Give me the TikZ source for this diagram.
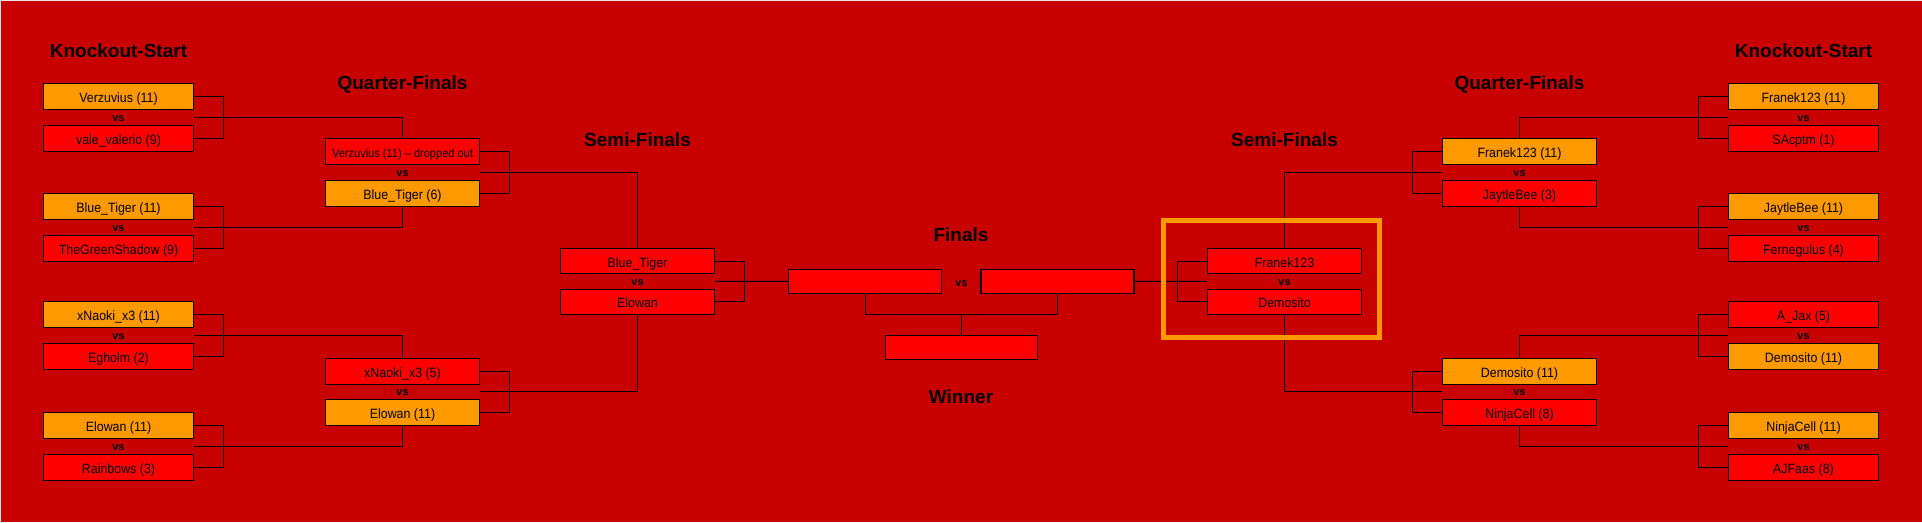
\documentclass[tikz,border=0pt]{standalone}
\usepackage{fontspec}
\setmainfont{Liberation Sans}
\newfontfamily\boxfont[FakeStretch=0.92]{Liberation Sans}
\usetikzlibrary{calc}
\definecolor{bgred}{HTML}{C80000}
\definecolor{boxred}{HTML}{FF0000}
\definecolor{boxorange}{HTML}{FF9900}
\definecolor{edgelight}{HTML}{E6E6E6}
\begin{document}
\begin{tikzpicture}[x=1pt,y=-1pt,
  pbox/.style={draw=black,line width=1.1pt,inner sep=0pt,minimum height=26pt,
    text height=12pt,text depth=0pt,font=\boxfont\fontsize{13.5}{14}\selectfont},
  kobox/.style={pbox,minimum width=150pt},
  qfbox/.style={pbox,minimum width=154pt},
  sfbox/.style={pbox,minimum width=154pt,minimum height=25pt},
  finbox/.style={pbox,minimum width=153pt,minimum height=24pt},
  winp/.style={fill=boxorange},
  losep/.style={fill=boxred},
  smalltext/.style={font=\boxfont\fontsize{12}{13}\selectfont},
  vslabel/.style={anchor=base,inner sep=0pt,font=\bfseries\fontsize{11}{11}\selectfont},
  stagetitle/.style={anchor=base,inner sep=0pt,font=\bfseries\fontsize{19}{19}\selectfont},
  conn/.style={draw=black,line width=1pt},
  highlight/.style={draw=boxorange,line width=5pt}
]
\useasboundingbox (0,0) rectangle (1922,522);
\fill[bgred] (0,0) rectangle (1922,522);
\draw[edgelight,line width=1pt] (0.5,522) -- (0.5,0.5) -- (1922,0.5);

% ---- titles ----
\node[stagetitle] (tksl) at (118.5,57.5) {Knockout-Start};
\node[stagetitle] (tqfl) at (402.5,89.5) {Quarter-Finals};
\node[stagetitle] (tsfl) at (637.5,146) {Semi-Finals};
\node[stagetitle] (tfin) at (961,241) {Finals};
\node[stagetitle] (twin) at (961,403) {Winner};
\node[stagetitle] (tsfr) at (1284.5,146) {Semi-Finals};
\node[stagetitle] (tqfr) at (1519.5,89.5) {Quarter-Finals};
\node[stagetitle] (tksr) at (1803.5,57.5) {Knockout-Start};

% ---- left knockout ----
\node[kobox,winp]  (l1) at (118.5,96.3)  {Verzuvius (11)};
\node[kobox,losep] (l2) at (118.5,138.3) {vale\_valerio (9)};
\node[kobox,winp]  (l3) at (118.5,206.3) {Blue\_Tiger (11)};
\node[kobox,losep] (l4) at (118.5,248.3) {TheGreenShadow (9)};
\node[kobox,winp]  (l5) at (118.5,314.3) {xNaoki\_x3 (11)};
\node[kobox,losep] (l6) at (118.5,356.3) {Egholm (2)};
\node[kobox,winp]  (l7) at (118.5,425.3) {Elowan (11)};
\node[kobox,losep] (l8) at (118.5,467.3) {Rainbows (3)};
\node[vslabel] (vl1) at (118.5,121.3) {vs};
\node[vslabel] (vl2) at (118.5,231.3) {vs};
\node[vslabel] (vl3) at (118.5,339.3) {vs};
\node[vslabel] (vl4) at (118.5,450.3) {vs};

% ---- left quarter-finals ----
\node[qfbox,losep,smalltext] (q1) at (402.5,151.3) {Verzuvius (11) – dropped out};
\node[qfbox,winp]  (q2) at (402.5,193.3) {Blue\_Tiger (6)};
\node[qfbox,losep] (q3) at (402.5,371.3) {xNaoki\_x3 (5)};
\node[qfbox,winp]  (q4) at (402.5,412.3) {Elowan (11)};
\node[vslabel] (vq1) at (402.5,176.3) {vs};
\node[vslabel] (vq2) at (402.5,395.8) {vs};

% ---- left semi-finals ----
\node[sfbox,losep] (s1) at (637.5,261) {Blue\_Tiger};
\node[sfbox,losep] (s2) at (637.5,301.8) {Elowan};
\node[vslabel] (vs1) at (637.5,285.4) {vs};

% ---- finals ----
\node[finbox,losep] (f1) at (865,281.3) {};
\node[finbox,losep] (f2) at (1057.5,281.3) {};
\node[vslabel] (vf) at (961.5,286) {vs};
\node[finbox,losep,minimum width=152pt] (w) at (961.5,347.3) {};

% ---- right semi-finals ----
\node[sfbox,losep] (r1) at (1284.5,261) {Franek123};
\node[sfbox,losep] (r2) at (1284.5,301.8) {Demosito};
\node[vslabel] (vs2) at (1284.5,285.4) {vs};

% ---- right quarter-finals ----
\node[qfbox,winp]  (p1) at (1519.5,151.3) {Franek123 (11)};
\node[qfbox,losep] (p2) at (1519.5,193.3) {JaytleBee (3)};
\node[qfbox,winp]  (p3) at (1519.5,371.3) {Demosito (11)};
\node[qfbox,losep] (p4) at (1519.5,412.3) {NinjaCell (8)};
\node[vslabel] (vp1) at (1519.5,176.3) {vs};
\node[vslabel] (vp2) at (1519.5,395.8) {vs};

% ---- right knockout ----
\node[kobox,winp]  (k1) at (1803.5,96.3)  {Franek123 (11)};
\node[kobox,losep] (k2) at (1803.5,138.3) {SAcptm (1)};
\node[kobox,winp]  (k3) at (1803.5,206.3) {JaytleBee (11)};
\node[kobox,losep] (k4) at (1803.5,248.3) {Fernegulus (4)};
\node[kobox,losep] (k5) at (1803.5,314.3) {A\_Jax (5)};
\node[kobox,winp]  (k6) at (1803.5,356.3) {Demosito (11)};
\node[kobox,winp]  (k7) at (1803.5,425.3) {NinjaCell (11)};
\node[kobox,losep] (k8) at (1803.5,467.3) {AJFaas (8)};
\node[vslabel] (vk1) at (1803.5,121.3) {vs};
\node[vslabel] (vk2) at (1803.5,231.3) {vs};
\node[vslabel] (vk3) at (1803.5,339.3) {vs};
\node[vslabel] (vk4) at (1803.5,450.3) {vs};

% ---- bracket columns ----
\coordinate (bxL) at (223.3,0);
\coordinate (bqL) at (509.4,0);
\coordinate (bsL) at (744.3,0);
\coordinate (bxR) at (1698.7,0);
\coordinate (bqR) at (1412.6,0);
\coordinate (bsR) at (1177.7,0);
\coordinate (fm) at (961.5,314.3);

% ---- left connectors ----
\draw[conn] (l1.east) -| (bxL |- l1.east) |- (l2.east);
\draw[conn] ($(l1.east)!.5!(l2.east)$ -| bxL) -| (q1.north);
\draw[conn] (l3.east) -| (bxL |- l3.east) |- (l4.east);
\draw[conn] ($(l3.east)!.5!(l4.east)$ -| bxL) -| (q2.south);
\draw[conn] (l5.east) -| (bxL |- l5.east) |- (l6.east);
\draw[conn] ($(l5.east)!.5!(l6.east)$ -| bxL) -| (q3.north);
\draw[conn] (l7.east) -| (bxL |- l7.east) |- (l8.east);
\draw[conn] ($(l7.east)!.5!(l8.east)$ -| bxL) -| (q4.south);

\draw[conn] (q1.east) -| (bqL |- q1.east) |- (q2.east);
\draw[conn] ($(q1.east)!.5!(q2.east)$ -| bqL) -| (s1.north);
\draw[conn] (q3.east) -| (bqL |- q3.east) |- (q4.east);
\draw[conn] ($(q3.east)!.5!(q4.east)$ -| bqL) -| (s2.south);

\draw[conn] (s1.east) -| (bsL |- s1.east) |- (s2.east);
\draw[conn] ($(s1.east)!.5!(s2.east)$ -| bsL) -- (f1.west);

% ---- right connectors ----
\draw[conn] (k1.west) -| (bxR |- k1.west) |- (k2.west);
\draw[conn] ($(k1.west)!.5!(k2.west)$ -| bxR) -| (p1.north);
\draw[conn] (k3.west) -| (bxR |- k3.west) |- (k4.west);
\draw[conn] ($(k3.west)!.5!(k4.west)$ -| bxR) -| (p2.south);
\draw[conn] (k5.west) -| (bxR |- k5.west) |- (k6.west);
\draw[conn] ($(k5.west)!.5!(k6.west)$ -| bxR) -| (p3.north);
\draw[conn] (k7.west) -| (bxR |- k7.west) |- (k8.west);
\draw[conn] ($(k7.west)!.5!(k8.west)$ -| bxR) -| (p4.south);

\draw[conn] (p1.west) -| (bqR |- p1.west) |- (p2.west);
\draw[conn] ($(p1.west)!.5!(p2.west)$ -| bqR) -| (r1.north);
\draw[conn] (p3.west) -| (bqR |- p3.west) |- (p4.west);
\draw[conn] ($(p3.west)!.5!(p4.west)$ -| bqR) -| (r2.south);

\draw[conn] (r1.west) -| (bsR |- r1.west) |- (r2.west);
\draw[conn] ($(r1.west)!.5!(r2.west)$ -| bsR) -- (f2.east);

% ---- finals to winner ----
\draw[conn] (f1.south) |- (fm) -| (f2.south);
\draw[conn] (fm) -- (w.north);

% ---- highlight ----
\draw[highlight] (1163.5,220) rectangle (1379,337.5);
\end{tikzpicture}
\end{document}
